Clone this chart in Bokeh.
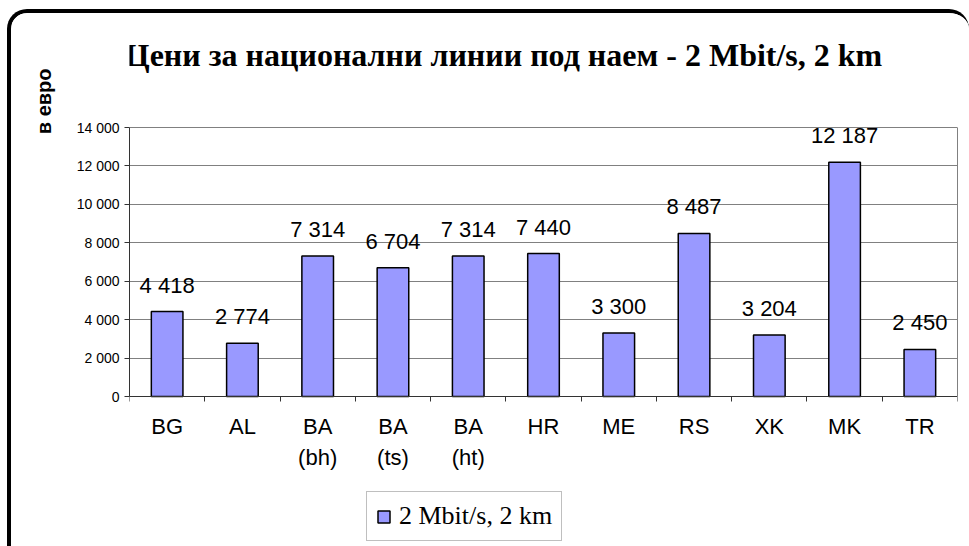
from bokeh.plotting import figure
from bokeh.models import (ColumnDataSource, Range1d, FixedTicker, LabelSet, Label, Title,
                          Legend, LegendItem, LinearAxis)
from bokeh.embed import file_html
from bokeh.resources import INLINE
from bokeh.core.properties import value

categories = ["BG", "AL", "BA\n(bh)", "BA\n(ts)", "BA\n(ht)", "HR", "ME", "RS", "XK", "MK", "TR"]
prices = [4418, 2774, 7314, 6704, 7314, 7440, 3300, 8487, 3204, 12187, 2450]
price_labels = ["4 418", "2 774", "7 314", "6 704", "7 314", "7 440", "3 300", "8 487", "3 204", "12 187", "2 450"]
y_ticks = [0, 2000, 4000, 6000, 8000, 10000, 12000, 14000]
y_tick_labels = ["0", "2 000", "4 000", "6 000", "8 000", "10 000", "12 000", "14 000"]
series_name = "2 Mbit/s, 2 km"
title_text = "Цени за национални линии под наем - 2 Mbit/s, 2 km"
y_title = "в евро"

n = len(categories)
centers = [i + 0.5 for i in range(n)]
bounds = [float(i) for i in range(n + 1)]
y_max = y_ticks[-1]

# ---- layout (pixels) ----
W, H = 962, 537            # host element size
BORDER = 4
CX, CY = 7 + BORDER, 9 + BORDER   # canvas origin on the page
CW, CH = W, H                     # canvas keeps the full size
PLOT_L, PLOT_R = 129, 957   # page x of value-axis area
PLOT_T, PLOT_B = 127, 396   # page y of 14000 and 0
FL = PLOT_L - CX
FR = CX + CW - PLOT_R
frame_top_page, frame_bot_page = CY, CY + CH
ppu = (PLOT_B - PLOT_T) / y_max
y_top = y_max + (PLOT_T - frame_top_page) / ppu
y_bot = -(frame_bot_page - PLOT_B) / ppu

p = figure(width=W, height=H, output_backend="svg", toolbar_location=None,
           title_location=None,
           x_range=Range1d(0, n), y_range=Range1d(y_bot, y_top),
           min_border_left=FL, min_border_right=FR, min_border_top=0, min_border_bottom=0,
           background_fill_color="white", border_fill_color="white")
p.styles = {"margin-left": "7px", "margin-top": "9px",
            "border-top": f"{BORDER}px solid black", "border-left": f"{BORDER}px solid black",
            "border-top-left-radius": "20px", "border-top-right-radius": "20px",
            "overflow": "hidden"}
p.outline_line_color = None

src = ColumnDataSource(dict(x=centers, top=prices, lab=price_labels))
bars = p.vbar(x="x", top="top", width=0.42, source=src, fill_color="#9999FF",
              line_color="black", line_width=1.5)

labels = LabelSet(x="x", y="top", text="lab", source=src, y_offset=19,
                  text_align="center", text_baseline="alphabetic",
                  text_font=value("Liberation Sans"), text_font_size="22px", text_color="black")
p.add_layout(labels)

# grid
p.xgrid.visible = False
p.ygrid.ticker = FixedTicker(ticks=y_ticks)
p.ygrid.grid_line_color = "#808080"
p.ygrid.grid_line_width = 1

# x axis at value 0
xa = p.xaxis[0]
xa.fixed_location = 0
xa.ticker = FixedTicker(ticks=centers, minor_ticks=bounds)
xa.major_label_overrides = {c: lab for c, lab in zip(centers, categories)}
xa.major_tick_line_color = None
xa.major_tick_in = 0
xa.major_tick_out = 0
xa.minor_tick_in = 0
xa.minor_tick_out = 5
xa.minor_tick_line_color = "#333333"
xa.axis_line_color = "#333333"
xa.major_label_text_font = "Liberation Sans"
xa.major_label_text_font_size = "22px"
xa.major_label_text_color = "black"
xa.major_label_standoff = 12
xa.major_label_text_line_height = 1.27

# y axis
ya = p.yaxis[0]
ya.bounds = (0, y_max)
ya.ticker = FixedTicker(ticks=y_ticks)
ya.major_label_overrides = {t: l for t, l in zip(y_ticks, y_tick_labels)}
ya.minor_tick_line_color = None
ya.major_tick_in = 0
ya.major_tick_out = 5
ya.major_tick_line_color = "#333333"
ya.axis_line_color = "#333333"
ya.major_label_text_font = "Liberation Sans"
ya.major_label_text_font_size = "14px"
ya.major_label_text_color = "black"
ya.major_label_standoff = 5

# right border line of plot area
ra = LinearAxis(bounds=(0, y_max), ticker=FixedTicker(ticks=[]), axis_line_color="#808080",
                major_tick_out=0, major_tick_in=0, minor_tick_out=0, minor_tick_in=0,
                major_label_standoff=0, major_label_text_font_size="0px")
p.add_layout(ra, "right")

# title (inside frame area, above the plot)
p.add_layout(Label(x=503 - PLOT_L, y=frame_bot_page - 54, x_units="screen", y_units="screen",
                   text=title_text, text_align="center", text_baseline="alphabetic",
                   text_font="Liberation Serif", text_font_style="bold",
                   text_font_size="32px", text_color="black"))

# value-axis title
p.add_layout(Title(text=y_title, align="right", text_font="Liberation Sans",
                   text_font_style="bold", text_font_size="20px", text_color="black",
                   standoff=37, offset=55), "left")

legend = Legend(items=[LegendItem(label=series_name, renderers=[bars])],
                location=(366 - PLOT_L, frame_bot_page - 541), orientation="vertical",
                label_text_font="Liberation Serif", label_text_font_size="26px",
                label_text_color="black",
                glyph_width=15, glyph_height=15, label_standoff=8,
                padding=9, margin=0, border_line_color="#808080", border_line_width=1,
                background_fill_alpha=1.0)
p.add_layout(legend)

open("out.html", "w").write(file_html(p, INLINE))
